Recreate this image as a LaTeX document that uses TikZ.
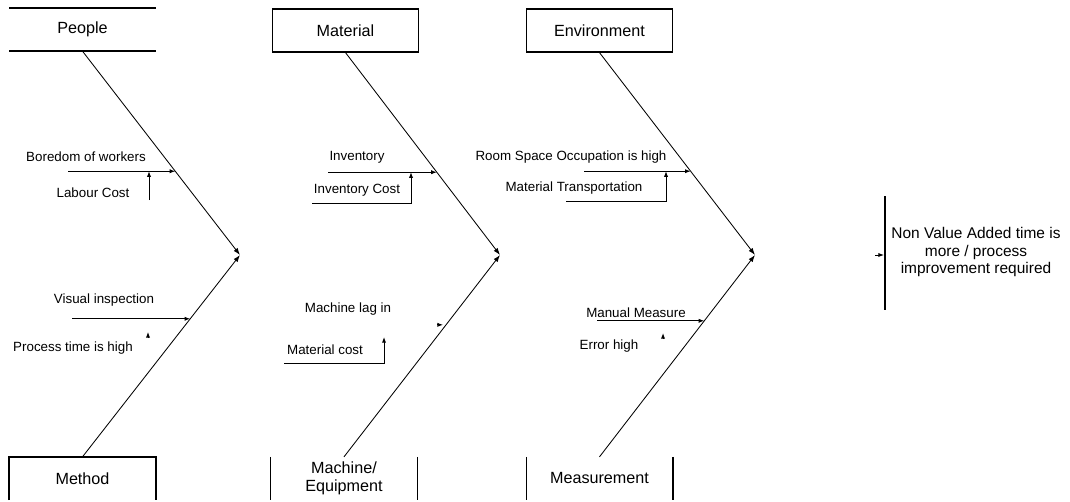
\documentclass[tikz,border=0pt]{standalone}
\usepackage{fontspec}
\setmainfont{Liberation Sans}
\usetikzlibrary{arrows.meta,calc}

\tikzset{
  causebox/.style={minimum width=3.65cm, minimum height=1.07cm, inner sep=0pt,
    align=center, font=\fontsize{11.5}{13}\selectfont},
  boxline/.style={line width=1pt},
  bone/.style={line width=0.6pt, -{Latex[length=5pt,width=3.5pt]}},
  twig/.style={line width=0.7pt, -{Latex[length=4pt,width=3pt]}},
  cause/.style={inner sep=1pt, font=\fontsize{9.5}{11}\selectfont},
}

\begin{document}
\begin{tikzpicture}[x=0.025cm, y=-0.025cm]
  \useasboundingbox (0,0) rectangle (1070,501);

  % category boxes, top row
  \node[causebox] (people) at (82.5,29.5) {People};
  \node[causebox, draw, boxline] (material) at (345.5,30.5) {Material};
  \node[causebox, draw, boxline] (environment) at (599.5,30.5) {Environment};
  \draw[boxline] (people.north west) -- (people.north east)
                 (people.south west) -- (people.south east);

  % category boxes, bottom row
  \node[causebox] (method) at (82.5,478.5) {Method};
  \node[causebox] (machine) at (344,478.5) {Machine/\\Equipment};
  \node[causebox] (measurement) at (599.5,478.5) {Measurement};
  \draw[boxline] (method.south west) -- (method.north west)
                 -- (method.north east) -- (method.south east);
  \draw[boxline] (machine.north west) -- (machine.south west)
                 (machine.north east) -- (machine.south east);
  \draw[boxline] (measurement.north west) -- (measurement.south west)
                 (measurement.north east) -- (measurement.south east);

  % heads where the bones meet
  \coordinate (headA) at (240,255);
  \coordinate (headB) at (500,255);
  \coordinate (headC) at (755,255);

  % bones
  \draw[bone] (people.south) -- (headA);
  \draw[bone] (method.north) -- (headA);
  \draw[bone] (material.south) -- (headB);
  \draw[bone] (machine.north) -- (headB);
  \draw[bone] (environment.south) -- (headC);
  \draw[bone] (measurement.north) -- (headC);

  % points on the bones
  \coordinate (pA1) at ($(people.south)!0.589!(headA)$);
  \coordinate (pA2) at ($(method.north)!0.684!(headA)$);
  \coordinate (pB1) at ($(material.south)!0.591!(headB)$);
  \coordinate (pB2) at ($(machine.north)!0.654!(headB)$);
  \coordinate (pC1) at ($(environment.south)!0.586!(headC)$);
  \coordinate (pC2) at ($(measurement.north)!0.674!(headC)$);

  % people causes
  \node[cause] (boredom) at (86,157) {Boredom of workers};
  \node[cause] (labour) at (93,193) {Labour Cost};
  \coordinate (tA1) at (68,0 |- pA1);
  \coordinate (tA1b) at (149,200);
  \draw[twig] (tA1) -- (pA1);
  \draw[twig] (tA1b) -- (149,0 |- pA1);

  % method causes
  \node[cause] (visual) at (104,300) {Visual inspection};
  \node[cause] (processtime) at (73,348) {Process time is high};
  \coordinate (tA2) at (72,0 |- pA2);
  \draw[twig] (tA2) -- (pA2);
  \draw[twig] (148,338) -- (148,332);

  % material causes
  \node[cause] (inventory) at (357,157) {Inventory};
  \node[cause] (invcost) at (357,190) {Inventory Cost};
  \coordinate (tB1) at (328,0 |- pB1);
  \coordinate (tB1b) at (312,203);
  \draw[twig] (tB1) -- (pB1);
  \draw[twig] (tB1b) -- (411,203) -- (411,0 |- pB1);

  % machine causes
  \node[cause] (machinelag) at (348,309) {Machine lag in};
  \node[cause] (matcost) at (325,350) {Material cost};
  \coordinate (tB2b) at (284,363);
  \draw[twig] ($(pB2)+(-9,0)$) -- ($(pB2)+(-3,0)$);
  \draw[twig] (tB2b) -- (384,363) -- (384,337);

  % environment causes
  \node[cause] (roomspace) at (571,157) {Room Space Occupation is high};
  \node[cause] (transport) at (574,188) {Material Transportation};
  \coordinate (tC1) at (584,0 |- pC1);
  \coordinate (tC1b) at (566,201);
  \draw[twig] (tC1) -- (pC1);
  \draw[twig] (tC1b) -- (666,201) -- (666,0 |- pC1);

  % measurement causes
  \node[cause] (manual) at (636,313) {Manual Measure};
  \node[cause] (errorhigh) at (609,346) {Error high};
  \coordinate (tC2) at (597,0 |- pC2);
  \draw[twig] (tC2) -- (pC2);
  \draw[twig] (663,339) -- (663,333);

  % effect
  \node[align=center, font=\fontsize{11}{12.5}\selectfont] (effect) at (976,252)
    {Non Value Added time is\\more / process\\improvement required};
  \coordinate (effecttop) at (885,196);
  \coordinate (effectbot) at (885,310);
  \draw[line width=1pt] (effecttop) -- (effectbot);
  \draw[twig] (875,255) -- (884,255);

\end{tikzpicture}
\end{document}
